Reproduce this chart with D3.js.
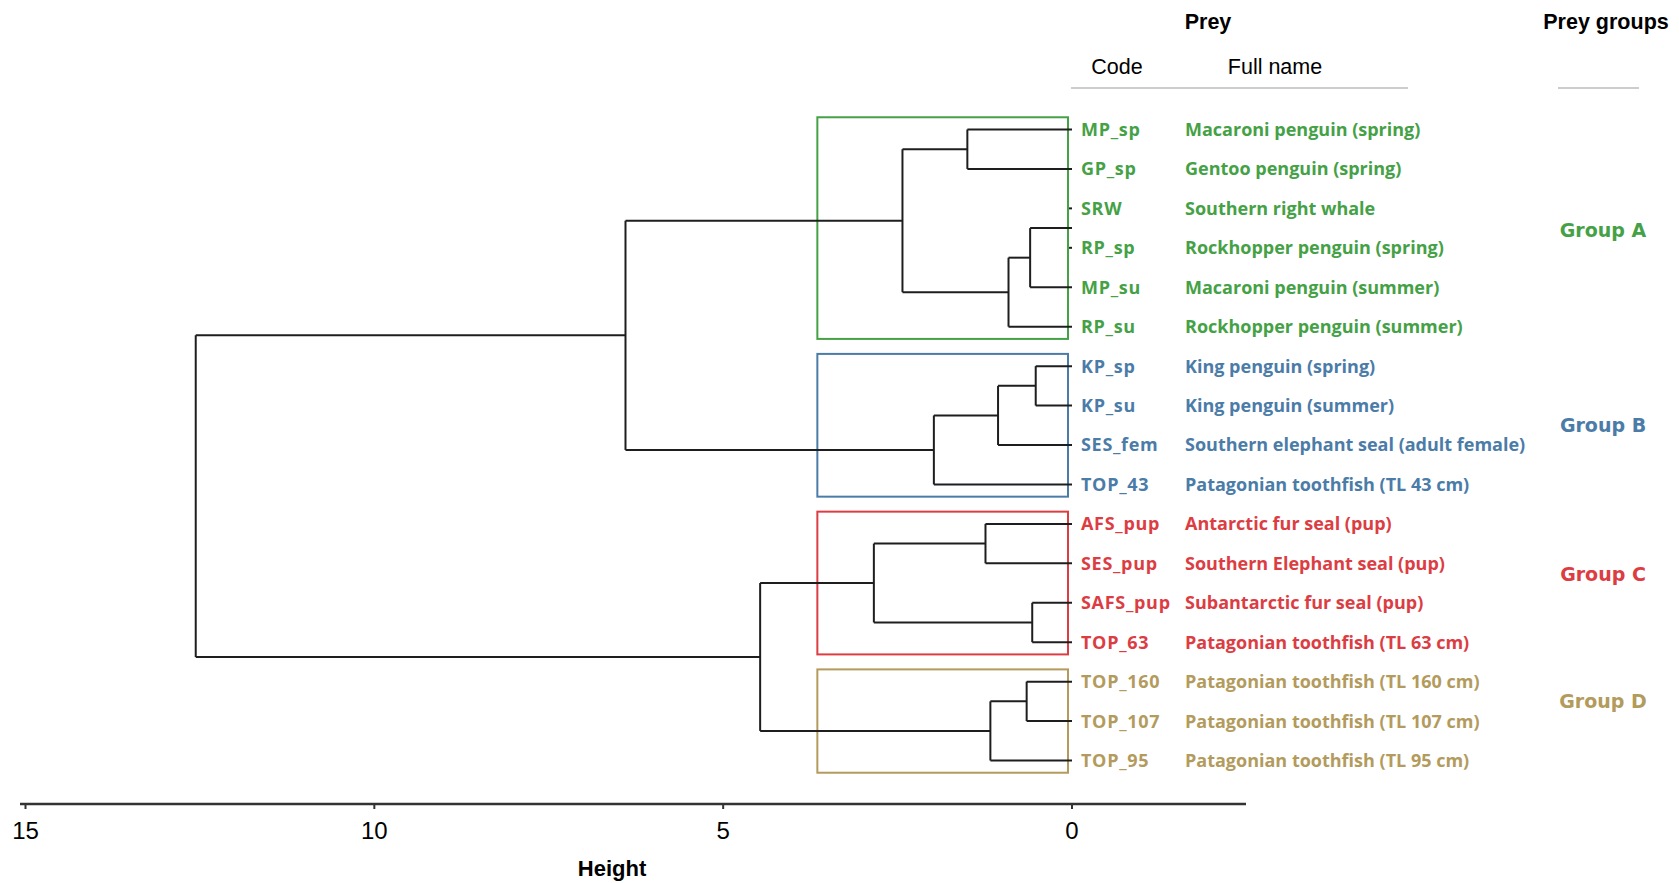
<!DOCTYPE html>
<html>
<head>
<meta charset="utf-8">
<script src="https://cdn.jsdelivr.net/npm/d3@7"></script>
<style>
  body { margin: 0; background: #fff; }
  svg { display: block; }
  .lbl { font-family: "Open Sans", "Noto Sans", sans-serif; font-weight: 700; font-size: 18px; }
  .code { letter-spacing: 0.7px; }
  .hdr { font-family: "Liberation Sans", Arial, sans-serif; font-size: 21.5px; fill: #000; }
  .grp { font-family: "DejaVu Sans", sans-serif; font-weight: 700; font-size: 19px; }
</style>
</head>
<body>
<div id="chart"></div>
<script>
// leaf order, top to bottom
const codes = ['MP_sp', 'GP_sp', 'SRW', 'RP_sp', 'MP_su', 'RP_su', 'KP_sp', 'KP_su', 'SES_fem', 'TOP_43',
  'AFS_pup', 'SES_pup', 'SAFS_pup', 'TOP_63', 'TOP_160', 'TOP_107', 'TOP_95']
const names = ['Macaroni penguin (spring)', 'Gentoo penguin (spring)', 'Southern right whale',
  'Rockhopper penguin (spring)', 'Macaroni penguin (summer)', 'Rockhopper penguin (summer)',
  'King penguin (spring)', 'King penguin (summer)', 'Southern elephant seal (adult female)',
  'Patagonian toothfish (TL 43 cm)', 'Antarctic fur seal (pup)', 'Southern Elephant seal (pup)',
  'Subantarctic fur seal (pup)', 'Patagonian toothfish (TL 63 cm)', 'Patagonian toothfish (TL 160 cm)',
  'Patagonian toothfish (TL 107 cm)', 'Patagonian toothfish (TL 95 cm)']
const leafGroup = ['A', 'A', 'A', 'A', 'A', 'A', 'B', 'B', 'B', 'B', 'C', 'C', 'C', 'C', 'D', 'D', 'D']

const groupNames = ['A', 'B', 'C', 'D']
const groupColors = ['#45a146', '#4b7ca8', '#dc3d43', '#b39b5d']
const groupLabelRow = [2.55, 7.5, 11.27, 14.5]

// merges: [left, right, height]; new cluster i gets id 'c' + (i + 1)
const merges = [
  ['SRW', 'RP_sp', 0],
  ['c1', 'MP_su', 0.60],
  ['c2', 'RP_su', 0.91],
  ['MP_sp', 'GP_sp', 1.50],
  ['c4', 'c3', 2.43],
  ['KP_sp', 'KP_su', 0.52],
  ['c6', 'SES_fem', 1.06],
  ['c7', 'TOP_43', 1.98],
  ['c5', 'c8', 6.40],
  ['AFS_pup', 'SES_pup', 1.24],
  ['SAFS_pup', 'TOP_63', 0.57],
  ['c10', 'c11', 2.84],
  ['TOP_160', 'TOP_107', 0.65],
  ['c13', 'TOP_95', 1.17],
  ['c12', 'c14', 4.47],
  ['c9', 'c15', 12.56]
]
const heightTicks = [15, 10, 5, 0]

const W = 1679, H = 883
const svg = d3.select('#chart').append('svg').attr('width', W).attr('height', H)

const x = d3.scaleLinear().domain([15, 0]).range([25.5, 1072])
const y = d3.scalePoint().domain(codes).range([129.5, 760.5])
const step = y.step()
const color = d3.scaleOrdinal().domain(groupNames).range(groupColors)

// build tree from merge list
const nodes = {}
codes.forEach(c => { nodes[c] = {id: c, h: 0} })
merges.forEach((m, i) => { nodes['c' + (i + 1)] = {id: 'c' + (i + 1), h: m[2], children: [nodes[m[0]], nodes[m[1]]]} })
const root = d3.hierarchy(nodes['c' + merges.length])
root.eachAfter(d => {
  d.yy = d.children ? d3.mean(d.children, c => c.yy) : y(d.data.id)
})

// group boxes
const boxLeft = x(3.65), boxRight = x(0) - 4
const g0 = svg.append('g')
groupNames.forEach(gn => {
  const leaves = codes.filter((c, i) => leafGroup[i] === gn)
  const y0 = y(leaves[0]) - step * 0.31, y1 = y(leaves[leaves.length - 1]) + step * 0.31
  g0.append('rect')
    .attr('x', boxLeft).attr('y', y0)
    .attr('width', boxRight - boxLeft).attr('height', y1 - y0)
    .attr('fill', 'none').attr('stroke', color(gn)).attr('stroke-width', 2)
})

// dendrogram
const tree = svg.append('g').attr('stroke', '#1e1e1e').attr('stroke-width', 2).attr('fill', 'none')
root.descendants().forEach(d => {
  if (d.children && d.data.h > 0) {
    const ys = d.children.map(c => c.yy)
    tree.append('line').attr('x1', x(d.data.h)).attr('x2', x(d.data.h))
      .attr('y1', d3.min(ys)).attr('y2', d3.max(ys))
  }
  if (d.parent) {
    let x1 = x(d.parent.data.h), x2 = x(d.data.h)
    if (x2 - x1 < 3) x1 = x2 - 3
    tree.append('line').attr('x1', x1).attr('x2', x2).attr('y1', d.yy).attr('y2', d.yy)
  }
})

// axis
const axisG = svg.append('g').attr('transform', 'translate(0,804)')
axisG.append('line').attr('x1', 20).attr('x2', 1246).attr('stroke', '#333').attr('stroke-width', 2.5)
axisG.selectAll('.tk').data(heightTicks).enter().append('line')
  .attr('x1', d => x(d)).attr('x2', d => x(d)).attr('y1', 0).attr('y2', 5)
  .attr('stroke', '#333').attr('stroke-width', 2)
axisG.selectAll('.tl').data(heightTicks).enter().append('text')
  .attr('x', d => x(d)).attr('y', 35)
  .attr('text-anchor', 'middle')
  .style('font-family', '"Liberation Sans", Arial, sans-serif').style('font-size', '24px')
  .text(d => d)
svg.append('text').attr('x', 612).attr('y', 876).attr('text-anchor', 'middle')
  .style('font-family', '"Liberation Sans", Arial, sans-serif').style('font-size', '22px').style('font-weight', 700)
  .text('Height')

// leaf labels
const lab = svg.append('g')
lab.selectAll('.code').data(codes).enter().append('text')
  .attr('class', 'lbl code').attr('x', 1081).attr('y', d => y(d)).attr('dy', '0.36em')
  .attr('fill', (d, i) => color(leafGroup[i])).text(d => d)
lab.selectAll('.name').data(names).enter().append('text')
  .attr('class', 'lbl name').attr('x', 1185).attr('y', (d, i) => y(codes[i])).attr('dy', '0.36em')
  .attr('fill', (d, i) => color(leafGroup[i])).text(d => d)

// group labels
svg.selectAll('.grp').data(groupNames).enter().append('text')
  .attr('class', 'grp').attr('x', 1603).attr('text-anchor', 'middle')
  .attr('y', (d, i) => y.range()[0] + groupLabelRow[i] * step).attr('dy', '0.36em')
  .attr('fill', d => color(d)).text(d => 'Group ' + d)

// headers
svg.append('text').attr('class', 'hdr').attr('x', 1208).attr('y', 29).attr('text-anchor', 'middle').style('font-weight', 700).text('Prey')
svg.append('text').attr('class', 'hdr').attr('x', 1606).attr('y', 29).attr('text-anchor', 'middle').style('font-weight', 700).text('Prey groups')
svg.append('text').attr('class', 'hdr').attr('x', 1117).attr('y', 74).attr('text-anchor', 'middle').text('Code')
svg.append('text').attr('class', 'hdr').attr('x', 1275).attr('y', 74).attr('text-anchor', 'middle').text('Full name')
svg.append('line').attr('x1', 1071).attr('x2', 1408).attr('y1', 88).attr('y2', 88).attr('stroke', '#999').attr('stroke-width', 1.2)
svg.append('line').attr('x1', 1558).attr('x2', 1639).attr('y1', 88).attr('y2', 88).attr('stroke', '#999').attr('stroke-width', 1.2)
</script>
</body>
</html>
